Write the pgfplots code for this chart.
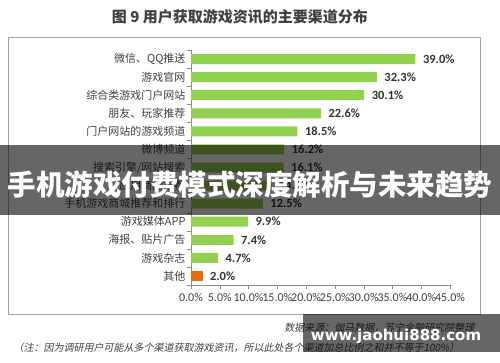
\documentclass[border=0pt]{standalone}
\usepackage{pgfplots}
\pgfplotsset{compat=1.18}
\usepackage{fontspec}
\setmainfont{Carlito}
\newfontfamily\cjk{Noto Sans CJK SC}
\newfontfamily\cjkit[FakeSlant=0.2]{Noto Sans CJK SC}
\newfontfamily\wm{DejaVu Sans}
\definecolor{bargreen}{HTML}{92D050}
\definecolor{barorange}{HTML}{E46C0A}
\definecolor{axgray}{HTML}{8C8C8C}
\definecolor{txtgray}{HTML}{404040}
\begin{document}
\begin{tikzpicture}
\useasboundingbox (0,0) rectangle (500pt,362pt);
\fill[white] (0,0) rectangle (500pt,362pt);
% frame
\draw[color=axgray!80, line width=0.8pt] (8pt,48pt) rectangle (480pt,324.5pt);
% title
\node[font=\cjk\bfseries\fontsize{15}{15}\selectfont, text=txtgray] at (240pt,345pt) {图 9 用户获取游戏资讯的主要渠道分布};
\begin{axis}[
  at={(191pt,77pt)}, anchor=south west,
  scale only axis, width=259pt, height=235pt,
  xmin=0, xmax=45, ymin=-0.5, ymax=12.5,
  xbar, bar width=10pt, bar shift=0pt,
  axis lines=left,
  axis line style={-, draw=axgray},
  major tick length=4pt,
  xtick={0,5,...,45},
  xticklabel={\pgfmathprintnumber[fixed,fixed zerofill,precision=1]{\tick}\%},
  /pgf/number format/assume math mode=true,
  xticklabel style={font=\fontsize{12}{12}\selectfont, text=txtgray, yshift=-1pt},
  x tick style={draw=axgray},
  tick align=outside,
  ytick={0,...,12},
  yticklabels={其他, 游戏杂志, {海报、贴片广告}, 游戏媒体APP, 手机游戏商城推荐和排行, 应用商店推荐, 搜索引擎/网站搜索, 微博频道, 门户网站的游戏频道, {朋友、玩家推荐}, 综合类游戏门户网站, 游戏官网, {微信、QQ推送}},
  yticklabel style={font=\cjk\fontsize{11}{11}\selectfont, text=txtgray, xshift=2pt},
  y tick style={draw=none},
  extra y ticks={-0.5,0.5,...,12.5},
  extra y tick labels={},
  extra y tick style={y tick style={draw=axgray}},
  nodes near coords={\pgfmathprintnumber[fixed,fixed zerofill,precision=1]{\pgfplotspointmeta}\%},
  nodes near coords style={font=\bfseries\fontsize{12.5}{12.5}\selectfont, text=txtgray!80!black, anchor=west, xshift=4pt},
  clip=false,
]
\addplot[fill=bargreen, draw=none] coordinates {
 (4.7,1) (7.4,2) (9.9,3) (12.5,4) (14.0,5) (16.1,6) (16.2,7) (18.5,8) (22.6,9) (30.1,10) (32.3,11) (39.0,12)
};
\addplot[fill=barorange, draw=none] coordinates {(2.0,0)};
\end{axis}
% banner overlay
\fill[black, opacity=0.6] (0,147pt) rectangle (500pt,217pt);
\node[font=\cjk\bfseries\fontsize{28.5}{28.5}\selectfont, text=white] at (250pt,177pt) {手机游戏付费模式深度解析与未来趋势};
% source and note
\node[anchor=east, font=\cjkit\fontsize{10}{10}\selectfont, text=txtgray] at (478pt,34pt) {数据来源：伽马数据，苏宁金融研究院整理};
\node[anchor=west, font=\cjkit\fontsize{10}{10}\selectfont, text=txtgray] at (10pt,14pt) {（注：因为调研用户可能从多个渠道获取游戏资讯，所以此处各个渠道加总比例之和并不等于100\%）};
% watermark
\fill[black, opacity=0.6] (303pt,10pt) rectangle (500pt,48pt);
\node[font=\wm\bfseries\fontsize{15}{15}\selectfont, text=white] at (396pt,26pt) {www.jaohui888.com};
\end{tikzpicture}
\end{document}
